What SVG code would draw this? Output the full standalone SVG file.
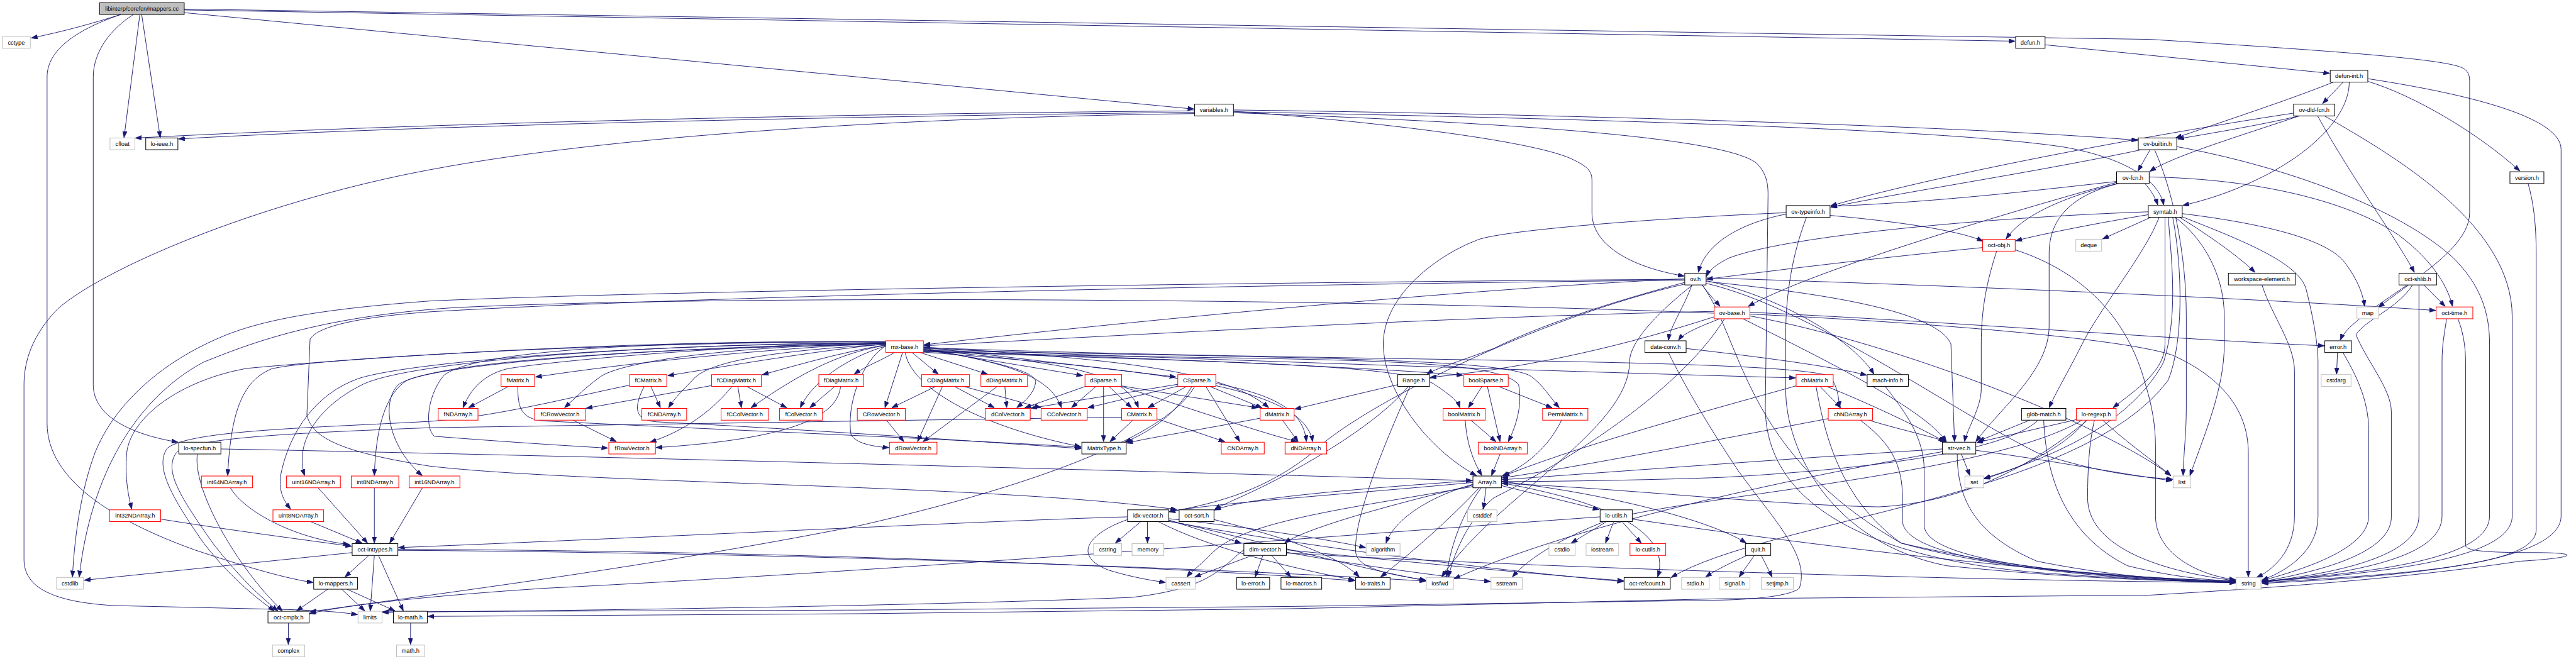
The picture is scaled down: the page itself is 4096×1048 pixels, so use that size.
<svg xmlns="http://www.w3.org/2000/svg" width="4096" height="1048" viewBox="0 0 4096 1048">
<style>
.n rect{fill:#fff;stroke:#000;stroke-width:1.4}
.n.r rect{stroke:#f00}
.n.x rect{stroke:#bfbfbf}
.n.root rect{fill:#bfbfbf}
.n text{font-family:"Liberation Sans",Arial,sans-serif;font-size:13px;text-anchor:middle;fill:#000}
#edges path{fill:none;stroke:#191970;stroke-width:1.3;marker-end:url(#a)}
</style>
<defs>
<marker id="a" markerUnits="userSpaceOnUse" markerWidth="14" markerHeight="10" refX="14" refY="5" orient="auto" viewBox="0 0 14 10"><path d="M0,0 L14,5 L0,10 z" fill="#191970" stroke="#191970" stroke-width="1"/></marker>
</defs>
<rect width="4096" height="1048" fill="#fff"/>
<g transform="scale(0.71974)">
<g id="edges">
<path d="M267,32 C210,50 140,70 69,84"/>
<path d="M309,32 L274,304"/>
<path d="M313,32 L354,304"/>
<path d="M295,32 C250,60 206,110 206,170 L206,850 C206,920 290,960 393,977"/>
<path d="M267,32 C170,65 104,110 104,170 L104,935 C104,1060 250,1150 430,1215 C550,1255 640,1280 692,1287"/>
<path d="M407,22 L4452,91"/>
<path d="M407,20 L4750,87 C5150,112 5400,130 5440,150 C5452,156 5456,165 5456,180 L5456,470 C5456,580 5200,680 5170,752"/>
<path d="M407,28 L2638,241"/>
<path d="M4518,99 L5147,162"/>
<path d="M5156,181 C5060,220 4900,272 4806,305"/>
<path d="M5177,181 L5131,229"/>
<path d="M5190,181 C5190,260 5100,340 5000,390 C4920,430 4860,445 4822,454"/>
<path d="M5232,180 C5330,210 5470,290 5567,378"/>
<path d="M5232,174 C5400,200 5658,250 5658,330 L5658,1140 C5658,1230 5400,1270 4997,1289"/>
<path d="M5585,405 C5598,450 5603,500 5603,560 L5603,1170 C5603,1240 5400,1265 4997,1287"/>
<path d="M5080,256 C5000,275 4900,292 4811,307"/>
<path d="M5067,250 C4800,290 4300,380 4044,455"/>
<path d="M5080,256 C4950,300 4800,345 4749,379"/>
<path d="M5120,256 C5200,400 5290,520 5334,602"/>
<path d="M5135,256 C5300,350 5550,500 5550,700 L5550,1140 C5550,1220 5350,1262 4997,1285"/>
<path d="M4750,331 L4723,378"/>
<path d="M4730,331 C4500,380 4200,425 4044,458"/>
<path d="M4809,324 C5050,368 5300,460 5420,570 C5480,630 5500,690 5500,760 L5500,1140 C5500,1225 5300,1262 4997,1284"/>
<path d="M4760,331 C4800,420 4830,560 4830,700 L4830,900 C4830,960 4824,1000 4823,1051"/>
<path d="M4676,401 C4500,420 4300,445 4045,456"/>
<path d="M4680,405 C4580,430 4470,470 4432,528"/>
<path d="M4676,403 C4400,480 4000,600 3862,677"/>
<path d="M4682,405 C4580,430 4527,480 4527,560 L4527,720 C4527,820 4420,900 4365,976"/>
<path d="M4738,405 C4752,420 4762,438 4767,453"/>
<path d="M4748,391 C5000,395 5200,450 5300,520 C5380,580 5410,640 5418,677"/>
<path d="M3946,473 C3860,490 3770,530 3752,602"/>
<path d="M3946,470 C3700,480 3350,505 3270,528 C3180,560 3056,650 3056,760 C3056,860 3150,990 3262,1051"/>
<path d="M3991,480 C3960,560 3945,650 3945,740 L3945,860 C3945,1000 4050,1200 4300,1250 C4600,1280 4800,1284 4939,1286"/>
<path d="M4043,476 C4200,490 4330,510 4381,533"/>
<path d="M4752,480 L4645,528"/>
<path d="M4748,474 C4650,490 4520,515 4453,532"/>
<path d="M4746,468 C4400,480 3950,520 3820,570 C3790,585 3775,598 3770,611"/>
<path d="M4815,480 C4880,520 4950,570 4982,602"/>
<path d="M4821,472 C5050,500 5150,540 5180,580 C5210,620 5220,650 5224,677"/>
<path d="M4821,479 C4950,530 5080,580 5095,640 C5110,700 5121,760 5121,800 L5121,1140 C5121,1220 5050,1262 4997,1282"/>
<path d="M4805,480 C4860,520 4914,600 4914,700 L4914,760 C4914,860 4870,960 4838,1051"/>
<path d="M4770,480 C4740,560 4640,680 4600,760 C4570,820 4540,870 4527,901"/>
<path d="M4783,480 L4783,760 C4783,820 4720,860 4668,901"/>
<path d="M4790,480 C4800,600 4810,700 4780,800 C4700,950 4500,1020 4383,1057"/>
<path d="M4800,480 C4823,600 4823,760 4790,840 C4600,1100 3900,1150 3692,1276"/>
<path d="M2639,245 C2000,250 1000,268 299,305"/>
<path d="M2639,248 C2000,256 1000,273 394,307"/>
<path d="M2639,251 C2100,258 1400,290 950,375 C600,440 250,580 130,680 C70,740 53,800 53,850 L53,1236 C53,1300 120,1330 250,1338 L600,1346 C700,1348 750,1352 790,1358"/>
<path d="M2725,246 C3000,265 3400,310 3480,355 C3510,370 3517,380 3517,400 L3517,470 C3517,540 3600,590 3721,610"/>
<path d="M2725,243 C3300,250 4300,275 4723,310"/>
<path d="M2725,247 C3500,262 4300,285 4560,325 C4700,350 4770,400 4780,453"/>
<path d="M2725,249 C3300,270 3800,300 3880,360 C3900,380 3906,400 3906,430 L3900,900 C3900,1100 4100,1230 4500,1265 C4700,1280 4850,1285 4939,1287"/>
<path d="M4997,629 C5020,700 5069,760 5069,820 L5069,1140 C5069,1220 5020,1260 4985,1276"/>
<path d="M5322,629 L5254,679"/>
<path d="M5354,629 L5402,677"/>
<path d="M5330,629 C5300,680 5220,710 5205,740 C5230,800 5283,860 5283,910 L5283,1142 C5283,1200 5200,1250 4997,1285"/>
<path d="M5344,629 L5344,1140 C5344,1220 5200,1262 4997,1286"/>
<path d="M5405,704 C5400,740 5395,760 5395,800 L5395,1140 C5395,1220 5250,1262 4997,1286"/>
<path d="M5430,704 C5440,730 5447,760 5447,800 L5447,1205 C5447,1218 5500,1221 5600,1221 C5700,1221 5700,1232 5568,1240 C5300,1280 5000,1300 4750,1315 L3800,1323 L2850,1345 L1900,1356 L945,1362"/>
<path d="M5164,779 L5162,827"/>
<path d="M5176,779 C5200,820 5233,880 5233,950 L5233,1140 C5233,1210 5100,1255 4997,1283"/>
<path d="M4380,547 C4100,575 3900,600 3770,617"/>
<path d="M4411,555 C4390,620 4377,680 4377,760 L4377,860 C4377,900 4345,950 4340,976"/>
<path d="M4452,552 C4600,600 4700,700 4740,850 C4755,900 4762,940 4762,990 L4762,1140 C4762,1220 4850,1270 4939,1281"/>
<path d="M3769,614 C4300,630 5000,660 5381,686"/>
<path d="M3760,629 C3775,650 3790,665 3800,677"/>
<path d="M3722,617 C3000,622 1500,640 950,665 C750,680 600,700 500,740 C350,800 250,900 210,1000 C180,1080 165,1180 160,1275"/>
<path d="M3722,619 C3000,626 1600,650 950,689 C800,700 700,720 685,750 L678,917 C690,970 760,1000 950,1030 C1300,1070 2200,1070 2600,1126"/>
<path d="M3722,616 C3200,640 2400,720 2041,762"/>
<path d="M3722,624 C3550,670 3400,720 3300,770 C3220,800 3170,815 3152,827"/>
<path d="M3738,629 C3720,680 3690,720 3686,752"/>
<path d="M3740,629 C3650,700 3600,760 3600,800 C3600,950 3300,1100 3185,1275"/>
<path d="M3725,627 C3400,700 3000,900 2900,1000 C2800,1080 2700,1110 2583,1131"/>
<path d="M3769,620 C3950,660 4100,760 4140,827"/>
<path d="M3769,622 C4050,650 4280,690 4310,760 L4318,976"/>
<path d="M3769,626 C4000,680 4300,900 4500,1000 C4650,1050 4750,1055 4800,1059"/>
<path d="M3760,629 C3850,750 3850,1000 4200,1200 C4500,1270 4800,1283 4939,1288"/>
<path d="M3866,690 C4300,710 4800,750 5135,764"/>
<path d="M3850,704 C4000,780 4250,900 4300,976"/>
<path d="M3866,698 C4200,760 4650,940 4796,1051"/>
<path d="M3866,694 C4300,715 4700,750 4800,785 C4900,830 4967,900 4967,1000 L4967,1275"/>
<path d="M3787,692 C3000,660 1600,650 1000,680 C700,700 550,760 450,800 C300,880 200,1050 175,1275"/>
<path d="M3810,704 C3720,850 3500,1000 3300,1100 C3240,1150 3210,1230 3200,1275"/>
<path d="M3787,700 C3600,760 3400,810 3159,834"/>
<path d="M3800,704 C3760,720 3720,735 3708,752"/>
<path d="M3787,688 C3200,700 2500,740 2041,764"/>
<path d="M3686,779 C3720,850 3780,950 3840,1040 C3920,1150 4000,1230 3975,1300 C3950,1320 3850,1325 3800,1326 L2850,1340 L1900,1348 C1300,1350 1000,1351 845,1352"/>
<path d="M3725,770 C3900,790 4050,810 4124,829"/>
<path d="M4165,854 C4200,900 4251,960 4251,1040 L4251,1160 C4251,1230 4500,1270 4939,1284"/>
<path d="M3088,850 C3000,870 2920,890 2860,904"/>
<path d="M3111,854 C3050,930 2900,1020 2800,1070 C2740,1100 2700,1115 2683,1126"/>
<path d="M3115,854 C3050,1000 2990,1150 2995,1220 C3000,1260 3080,1270 3150,1282"/>
<path d="M3274,854 L3244,901"/>
<path d="M3286,854 L3314,976"/>
<path d="M3311,854 L3429,901"/>
<path d="M3237,928 C3240,980 3255,1020 3274,1051"/>
<path d="M3249,928 L3305,976"/>
<path d="M3314,1003 L3295,1051"/>
<path d="M3450,928 C3420,990 3370,1030 3318,1052"/>
<path d="M3283,1078 L3277,1125"/>
<path d="M3254,1070 C3150,1100 3080,1150 3062,1200"/>
<path d="M3317,1073 L3533,1126"/>
<path d="M3268,1078 C3200,1150 3120,1220 3050,1275"/>
<path d="M3272,1078 C3220,1150 3200,1230 3196,1275"/>
<path d="M3317,1067 C3500,1100 3700,1160 3662,1275"/>
<path d="M3317,1064 C3550,1090 3780,1150 3858,1200"/>
<path d="M3254,1066 C3000,1090 2700,1110 2583,1130"/>
<path d="M3254,1062 C3000,1080 2750,1100 2683,1127"/>
<path d="M3254,1072 C3050,1120 2880,1170 2838,1200"/>
<path d="M3254,1075 C3000,1120 2750,1150 2680,1220 C2650,1250 2630,1265 2622,1275"/>
<path d="M2521,1152 L2464,1200"/>
<path d="M2535,1152 L2535,1200"/>
<path d="M2491,1148 C2400,1180 2370,1230 2450,1260 C2500,1275 2540,1282 2575,1287"/>
<path d="M2582,1149 L2742,1200"/>
<path d="M2491,1142 C2200,1150 1500,1185 880,1210"/>
<path d="M2558,1152 C2650,1200 2800,1245 2993,1282"/>
<path d="M2582,1152 C2900,1210 3300,1260 3587,1285"/>
<path d="M2582,1146 C2800,1170 2950,1195 3017,1210"/>
<path d="M2582,1150 C2800,1200 3000,1255 3150,1283"/>
<path d="M2682,1148 C2850,1190 2960,1230 3003,1275"/>
<path d="M2767,1227 L2639,1275"/>
<path d="M2790,1227 L2773,1275"/>
<path d="M2809,1227 L2852,1275"/>
<path d="M2748,1215 C2700,1250 2680,1300 2500,1320 C2000,1340 1200,1350 845,1353"/>
<path d="M2842,1215 C3100,1240 3400,1270 3587,1283"/>
<path d="M2842,1220 C3000,1250 3200,1275 3293,1285"/>
<path d="M2842,1222 C3500,1260 4500,1285 4939,1287"/>
<path d="M3550,1152 L3471,1200"/>
<path d="M3565,1152 L3547,1200"/>
<path d="M3583,1152 L3626,1200"/>
<path d="M3535,1142 C3000,1180 2000,1260 1200,1300 C900,1320 750,1340 684,1356"/>
<path d="M3606,1147 C3900,1190 4500,1270 4939,1285"/>
<path d="M3876,1227 L3842,1275"/>
<path d="M3891,1227 L3915,1275"/>
<path d="M3860,1227 C3820,1245 3790,1260 3768,1275"/>
<path d="M778,1221 L186,1282"/>
<path d="M815,1227 L762,1275"/>
<path d="M827,1227 L818,1350"/>
<path d="M836,1227 L891,1350"/>
<path d="M879,1214 C1500,1215 2400,1240 2993,1283"/>
<path d="M879,1216 C1600,1220 2600,1250 3150,1284"/>
<path d="M724,1302 L655,1350"/>
<path d="M755,1302 L806,1350"/>
<path d="M767,1302 L873,1350"/>
<path d="M637,1377 L637,1424"/>
<path d="M907,1377 L907,1424"/>
<path d="M436,1003 C425,1080 520,1250 624,1350"/>
<path d="M488,992 C1200,1005 2500,1040 3253,1062"/>
<path d="M355,1147 C500,1170 650,1190 777,1207"/>
<path d="M509,1078 C540,1130 650,1190 772,1203"/>
<path d="M685,1152 L800,1200"/>
<path d="M703,1078 L812,1200"/>
<path d="M827,1078 L827,1200"/>
<path d="M933,1078 L861,1200"/>
<path d="M4333,1003 L4352,1051"/>
<path d="M4291,992 C4000,1010 3600,1040 3318,1060"/>
<path d="M4365,995 C4550,1020 4700,1050 4799,1062"/>
<path d="M4324,1003 C4324,1100 4360,1180 4500,1240 C4700,1280 4850,1284 4939,1286"/>
<path d="M4291,998 C4000,1050 3500,1150 3212,1279"/>
<path d="M4485,928 L4370,975"/>
<path d="M4503,928 C4450,980 4250,1030 3800,1055 C3600,1062 3400,1064 3318,1064"/>
<path d="M4515,928 C4520,1050 4560,1180 4700,1250 C4800,1275 4880,1282 4939,1284"/>
<path d="M4588,927 L4367,978"/>
<path d="M4609,928 C4570,980 4480,1030 4383,1058"/>
<path d="M4612,928 C4500,1020 4350,1110 4150,1120 C3900,1115 3600,1080 3318,1068"/>
<path d="M4627,928 C4615,980 4612,1040 4612,1100 C4612,1200 4750,1260 4939,1283"/>
<path d="M4645,928 C4700,980 4760,1020 4796,1051"/>
<path d="M4600,928 C4400,1050 3700,1100 3550,1150 C3450,1190 3380,1230 3341,1275"/>
<path d="M4021,854 L4067,901"/>
<path d="M4036,854 C4150,900 4250,950 4297,976"/>
<path d="M3970,852 C3800,900 3500,980 3321,1052"/>
<path d="M4012,854 C4030,950 4060,1100 4200,1200 C4450,1270 4800,1285 4939,1287"/>
<path d="M4039,925 C3800,970 3500,1030 3318,1056"/>
<path d="M4109,928 C4180,980 4203,1030 4203,1100 L4203,1150 C4203,1230 4500,1270 4939,1286"/>
<path d="M4127,928 C4200,950 4270,965 4300,976"/>
<path d="M1123,854 L1035,901"/>
<path d="M1144,854 C1144,900 1150,925 1200,930 C1600,950 2100,970 2389,988"/>
<path d="M1438,854 L1459,901"/>
<path d="M1423,854 C1400,900 1400,928 1450,932 C1800,950 2150,975 2389,991"/>
<path d="M1391,851 C1250,880 1100,920 950,931 C700,945 420,950 370,990 C340,1030 380,1100 450,1200 C520,1290 580,1330 606,1350"/>
<path d="M1572,852 L1295,902"/>
<path d="M1617,854 C1580,900 1520,950 1436,977"/>
<path d="M1630,854 L1638,901"/>
<path d="M1650,854 L1738,901"/>
<path d="M1844,854 L1789,901"/>
<path d="M1857,854 C1850,920 1750,970 1449,989"/>
<path d="M1265,928 L1362,976"/>
<path d="M2067,854 L1970,901"/>
<path d="M2082,854 L2027,976"/>
<path d="M2109,854 L2197,901"/>
<path d="M2130,854 L2300,901"/>
<path d="M2220,854 L2224,901"/>
<path d="M2203,854 L2039,976"/>
<path d="M2403,852 L2264,901"/>
<path d="M2421,854 L2367,901"/>
<path d="M2438,854 L2438,976"/>
<path d="M2450,854 L2500,901"/>
<path d="M2473,852 L2779,901"/>
<path d="M2479,854 C2650,910 2800,960 2866,976"/>
<path d="M2603,849 L2277,902"/>
<path d="M2603,853 L2403,901"/>
<path d="M2621,854 L2536,901"/>
<path d="M2633,854 C2600,910 2550,950 2485,977"/>
<path d="M2639,854 C2580,960 2300,1070 1900,1161 C1400,1260 900,1320 685,1352"/>
<path d="M2664,854 L2739,976"/>
<path d="M2673,854 L2788,901"/>
<path d="M2686,847 C2800,870 2880,900 2886,976"/>
<path d="M2503,928 L2452,976"/>
<path d="M2555,925 L2706,976"/>
<path d="M2478,922 C2000,928 1300,940 950,945 C700,955 420,965 390,1000 C360,1040 400,1100 470,1200 C540,1290 590,1330 614,1350"/>
<path d="M2784,924 C2650,950 2550,965 2489,979"/>
<path d="M2833,928 L2868,976"/>
<path d="M1958,928 L1997,976"/>
<path d="M1994,779 L1955,901"/>
<path d="M2000,779 C2010,850 2150,940 2388,987"/>
<path d="M2015,779 L2073,827"/>
<path d="M2033,779 L2182,827"/>
<path d="M2040,772 L2392,830"/>
<path d="M2040,767 L2598,833"/>
<path d="M2040,769 C2200,800 2290,820 2288,845 C2285,870 2260,890 2246,901"/>
<path d="M2040,771 C2220,800 2320,830 2345,901"/>
<path d="M2040,772 C2300,800 2480,810 2515,901"/>
<path d="M2040,767 C2400,790 2700,810 2803,901"/>
<path d="M1976,779 C1950,795 1910,810 1887,827"/>
<path d="M1957,762 C1850,780 1750,810 1684,828"/>
<path d="M1957,760 C1800,775 1600,810 1475,830"/>
<path d="M1957,758 C1700,770 1400,800 1183,833"/>
<path d="M1957,757 C1600,762 1200,800 1120,815 C1060,830 1035,870 1023,901"/>
<path d="M1957,759 C1600,765 1380,800 1330,830 C1300,850 1270,880 1247,901"/>
<path d="M1957,761 C1700,775 1560,800 1530,840 C1510,860 1490,880 1477,901"/>
<path d="M1957,763 C1850,780 1760,830 1659,901"/>
<path d="M1957,765 C1900,780 1800,830 1768,901"/>
<path d="M1957,756 C1500,752 1050,770 980,830 C940,880 940,950 960,964 C1100,975 1250,985 1343,990"/>
<path d="M1957,755 C1400,755 700,790 600,815 C540,840 510,900 503,1051"/>
<path d="M1957,757 C1400,760 900,800 800,850 C700,900 650,980 673,1051"/>
<path d="M1957,759 C1500,765 1000,800 900,840 C850,870 830,950 827,1051"/>
<path d="M1957,761 C1400,770 950,800 880,850 C840,890 860,990 933,1051"/>
<path d="M1957,755 C1400,750 800,790 545,814 C400,840 290,920 280,1000 C275,1060 285,1100 291,1125"/>
<path d="M1957,758 C1400,760 900,800 790,837 C700,870 640,950 620,1050 C615,1090 630,1110 642,1125"/>
<path d="M2040,775 C2500,790 3000,810 3232,829"/>
<path d="M2040,776 C2600,800 3100,800 3170,850 C3200,870 3220,885 3225,901"/>
<path d="M2040,777 C2800,800 3300,780 3355,850 C3365,900 3345,950 3332,976"/>
<path d="M2040,774 C2800,790 3300,790 3380,830 C3410,850 3425,880 3445,901"/>
<path d="M2040,770 C2800,800 3600,825 3967,835"/>
<path d="M2040,768 C2900,800 3900,790 4040,830 C4060,850 4062,880 4064,901"/>
<path d="M2040,778 C2600,820 2880,860 2900,976"/>
<path d="M1957,764 C1900,800 1870,900 1880,960 C1890,980 1930,987 1964,989"/>
</g>
<g id="nodes">
<g id="n-mappers-cc" class="n root"><rect x="220" y="6" width="187" height="26"/><text x="313.5" y="23.5">libinterp/corefcn/mappers.cc</text></g>
<g id="n-cctype" class="n x"><rect x="5" y="80.7" width="62" height="26"/><text x="36" y="98.2">cctype</text></g>
<g id="n-defun-h" class="n"><rect x="4453" y="80.7" width="65" height="26"/><text x="4485.5" y="98.2">defun.h</text></g>
<g id="n-defun-int-h" class="n"><rect x="5148" y="155.4" width="83" height="26"/><text x="5189.5" y="172.9">defun-int.h</text></g>
<g id="n-variables-h" class="n"><rect x="2639" y="230.1" width="86" height="26"/><text x="2682" y="247.6">variables.h</text></g>
<g id="n-ov-dld-fcn-h" class="n"><rect x="5067" y="230.1" width="91" height="26"/><text x="5112.5" y="247.6">ov-dld-fcn.h</text></g>
<g id="n-cfloat" class="n x"><rect x="243" y="304.8" width="55" height="26"/><text x="270.5" y="322.3">cfloat</text></g>
<g id="n-lo-ieee-h" class="n"><rect x="322" y="304.8" width="71" height="26"/><text x="357.5" y="322.3">lo-ieee.h</text></g>
<g id="n-ov-builtin-h" class="n"><rect x="4724" y="304.8" width="85" height="26"/><text x="4766.5" y="322.3">ov-builtin.h</text></g>
<g id="n-ov-fcn-h" class="n"><rect x="4676" y="379.5" width="72" height="26"/><text x="4712" y="397">ov-fcn.h</text></g>
<g id="n-version-h" class="n"><rect x="5545" y="379.5" width="75" height="26"/><text x="5582.5" y="397">version.h</text></g>
<g id="n-ov-typeinfo-h" class="n"><rect x="3946" y="454.2" width="97" height="26"/><text x="3994.5" y="471.7">ov-typeinfo.h</text></g>
<g id="n-symtab-h" class="n"><rect x="4746" y="454.2" width="75" height="26"/><text x="4783.5" y="471.7">symtab.h</text></g>
<g id="n-oct-obj-h" class="n r"><rect x="4380" y="528.9" width="72" height="26"/><text x="4416" y="546.4">oct-obj.h</text></g>
<g id="n-deque" class="n x"><rect x="4586" y="528.9" width="57" height="26"/><text x="4614.5" y="546.4">deque</text></g>
<g id="n-ov-h" class="n"><rect x="3722" y="603.6" width="47" height="26"/><text x="3745.5" y="621.1">ov.h</text></g>
<g id="n-workspace-element-h" class="n"><rect x="4923" y="603.6" width="148" height="26"/><text x="4997" y="621.1">workspace-element.h</text></g>
<g id="n-oct-shlib-h" class="n"><rect x="5300" y="603.6" width="83" height="26"/><text x="5341.5" y="621.1">oct-shlib.h</text></g>
<g id="n-ov-base-h" class="n r"><rect x="3787" y="678.3" width="79" height="26"/><text x="3826.5" y="695.8">ov-base.h</text></g>
<g id="n-map" class="n x"><rect x="5207" y="678.3" width="48" height="26"/><text x="5231" y="695.8">map</text></g>
<g id="n-oct-time-h" class="n r"><rect x="5382" y="678.3" width="81" height="26"/><text x="5422.5" y="695.8">oct-time.h</text></g>
<g id="n-mx-base-h" class="n r"><rect x="1957" y="753" width="83" height="26"/><text x="1998.5" y="770.5">mx-base.h</text></g>
<g id="n-data-conv-h" class="n"><rect x="3634" y="753" width="91" height="26"/><text x="3679.5" y="770.5">data-conv.h</text></g>
<g id="n-error-h" class="n"><rect x="5136" y="753" width="59" height="26"/><text x="5165.5" y="770.5">error.h</text></g>
<g id="n-fMatrix-h" class="n r"><rect x="1107" y="827.7" width="74" height="26"/><text x="1144" y="845.2">fMatrix.h</text></g>
<g id="n-fCMatrix-h" class="n r"><rect x="1391" y="827.7" width="82" height="26"/><text x="1432" y="845.2">fCMatrix.h</text></g>
<g id="n-fCDiagMatrix-h" class="n r"><rect x="1572" y="827.7" width="110" height="26"/><text x="1627" y="845.2">fCDiagMatrix.h</text></g>
<g id="n-fDiagMatrix-h" class="n r"><rect x="1809" y="827.7" width="99" height="26"/><text x="1858.5" y="845.2">fDiagMatrix.h</text></g>
<g id="n-CDiagMatrix-h" class="n r"><rect x="2036" y="827.7" width="106" height="26"/><text x="2089" y="845.2">CDiagMatrix.h</text></g>
<g id="n-dDiagMatrix-h" class="n r"><rect x="2167" y="827.7" width="103" height="26"/><text x="2218.5" y="845.2">dDiagMatrix.h</text></g>
<g id="n-dSparse-h" class="n r"><rect x="2397" y="827.7" width="81" height="26"/><text x="2437.5" y="845.2">dSparse.h</text></g>
<g id="n-CSparse-h" class="n r"><rect x="2602" y="827.7" width="84" height="26"/><text x="2644" y="845.2">CSparse.h</text></g>
<g id="n-Range-h" class="n"><rect x="3088" y="827.7" width="70" height="26"/><text x="3123" y="845.2">Range.h</text></g>
<g id="n-boolSparse-h" class="n r"><rect x="3234" y="827.7" width="98" height="26"/><text x="3283" y="845.2">boolSparse.h</text></g>
<g id="n-chMatrix-h" class="n r"><rect x="3968" y="827.7" width="82" height="26"/><text x="4009" y="845.2">chMatrix.h</text></g>
<g id="n-mach-info-h" class="n"><rect x="4125" y="827.7" width="91" height="26"/><text x="4170.5" y="845.2">mach-info.h</text></g>
<g id="n-cstdarg" class="n x"><rect x="5128" y="827.7" width="66" height="26"/><text x="5161" y="845.2">cstdarg</text></g>
<g id="n-fNDArray-h" class="n r"><rect x="968" y="902.4" width="88" height="26"/><text x="1012" y="919.9">fNDArray.h</text></g>
<g id="n-fCRowVector-h" class="n r"><rect x="1181" y="902.4" width="113" height="26"/><text x="1237.5" y="919.9">fCRowVector.h</text></g>
<g id="n-fCNDArray-h" class="n r"><rect x="1418" y="902.4" width="99" height="26"/><text x="1467.5" y="919.9">fCNDArray.h</text></g>
<g id="n-fCColVector-h" class="n r"><rect x="1593" y="902.4" width="105" height="26"/><text x="1645.5" y="919.9">fCColVector.h</text></g>
<g id="n-fColVector-h" class="n r"><rect x="1722" y="902.4" width="95" height="26"/><text x="1769.5" y="919.9">fColVector.h</text></g>
<g id="n-CRowVector-h" class="n r"><rect x="1894" y="902.4" width="106" height="26"/><text x="1947" y="919.9">CRowVector.h</text></g>
<g id="n-dColVector-h" class="n r"><rect x="2177" y="902.4" width="99" height="26"/><text x="2226.5" y="919.9">dColVector.h</text></g>
<g id="n-CColVector-h" class="n r"><rect x="2300" y="902.4" width="102" height="26"/><text x="2351" y="919.9">CColVector.h</text></g>
<g id="n-CMatrix-h" class="n r"><rect x="2478" y="902.4" width="78" height="26"/><text x="2517" y="919.9">CMatrix.h</text></g>
<g id="n-dMatrix-h" class="n r"><rect x="2784" y="902.4" width="75" height="26"/><text x="2821.5" y="919.9">dMatrix.h</text></g>
<g id="n-boolMatrix-h" class="n r"><rect x="3188" y="902.4" width="93" height="26"/><text x="3234.5" y="919.9">boolMatrix.h</text></g>
<g id="n-PermMatrix-h" class="n r"><rect x="3408" y="902.4" width="100" height="26"/><text x="3458" y="919.9">PermMatrix.h</text></g>
<g id="n-chNDArray-h" class="n r"><rect x="4039" y="902.4" width="98" height="26"/><text x="4088" y="919.9">chNDArray.h</text></g>
<g id="n-glob-match-h" class="n"><rect x="4466" y="902.4" width="98" height="26"/><text x="4515" y="919.9">glob-match.h</text></g>
<g id="n-lo-regexp-h" class="n r"><rect x="4587" y="902.4" width="88" height="26"/><text x="4631" y="919.9">lo-regexp.h</text></g>
<g id="n-lo-specfun-h" class="n"><rect x="395" y="977.1" width="93" height="26"/><text x="441.5" y="994.6">lo-specfun.h</text></g>
<g id="n-fRowVector-h" class="n r"><rect x="1345" y="977.1" width="103" height="26"/><text x="1396.5" y="994.6">fRowVector.h</text></g>
<g id="n-dRowVector-h" class="n r"><rect x="1965" y="977.1" width="105" height="26"/><text x="2017.5" y="994.6">dRowVector.h</text></g>
<g id="n-MatrixType-h" class="n"><rect x="2390" y="977.1" width="98" height="26"/><text x="2439" y="994.6">MatrixType.h</text></g>
<g id="n-CNDArray-h" class="n r"><rect x="2698" y="977.1" width="95" height="26"/><text x="2745.5" y="994.6">CNDArray.h</text></g>
<g id="n-dNDArray-h" class="n r"><rect x="2839" y="977.1" width="92" height="26"/><text x="2885" y="994.6">dNDArray.h</text></g>
<g id="n-boolNDArray-h" class="n r"><rect x="3266" y="977.1" width="108" height="26"/><text x="3320" y="994.6">boolNDArray.h</text></g>
<g id="n-str-vec-h" class="n"><rect x="4291" y="977.1" width="74" height="26"/><text x="4328" y="994.6">str-vec.h</text></g>
<g id="n-int64NDArray-h" class="n r"><rect x="445" y="1051.8" width="113" height="26"/><text x="501.5" y="1069.3">int64NDArray.h</text></g>
<g id="n-uint16NDArray-h" class="n r"><rect x="633" y="1051.8" width="119" height="26"/><text x="692.5" y="1069.3">uint16NDArray.h</text></g>
<g id="n-int8NDArray-h" class="n r"><rect x="776" y="1051.8" width="105" height="26"/><text x="828.5" y="1069.3">int8NDArray.h</text></g>
<g id="n-int16NDArray-h" class="n r"><rect x="904" y="1051.8" width="112" height="26"/><text x="960" y="1069.3">int16NDArray.h</text></g>
<g id="n-Array-h" class="n"><rect x="3254" y="1051.8" width="63" height="26"/><text x="3285.5" y="1069.3">Array.h</text></g>
<g id="n-set" class="n x"><rect x="4341" y="1051.8" width="41" height="26"/><text x="4361.5" y="1069.3">set</text></g>
<g id="n-list" class="n x"><rect x="4801" y="1051.8" width="39" height="26"/><text x="4820.5" y="1069.3">list</text></g>
<g id="n-int32NDArray-h" class="n r"><rect x="242" y="1126.5" width="113" height="26"/><text x="298.5" y="1144">int32NDArray.h</text></g>
<g id="n-uint8NDArray-h" class="n r"><rect x="603" y="1126.5" width="112" height="26"/><text x="659" y="1144">uint8NDArray.h</text></g>
<g id="n-idx-vector-h" class="n"><rect x="2491" y="1126.5" width="91" height="26"/><text x="2536.5" y="1144">idx-vector.h</text></g>
<g id="n-oct-sort-h" class="n"><rect x="2605" y="1126.5" width="77" height="26"/><text x="2643.5" y="1144">oct-sort.h</text></g>
<g id="n-cstddef" class="n x"><rect x="3242" y="1126.5" width="65" height="26"/><text x="3274.5" y="1144">cstddef</text></g>
<g id="n-lo-utils-h" class="n"><rect x="3535" y="1126.5" width="71" height="26"/><text x="3570.5" y="1144">lo-utils.h</text></g>
<g id="n-oct-inttypes-h" class="n"><rect x="778" y="1201.2" width="101" height="26"/><text x="828.5" y="1218.7">oct-inttypes.h</text></g>
<g id="n-cstring" class="n x"><rect x="2416" y="1201.2" width="62" height="26"/><text x="2447" y="1218.7">cstring</text></g>
<g id="n-memory" class="n x"><rect x="2501" y="1201.2" width="70" height="26"/><text x="2536" y="1218.7">memory</text></g>
<g id="n-dim-vector-h" class="n"><rect x="2748" y="1201.2" width="94" height="26"/><text x="2795" y="1218.7">dim-vector.h</text></g>
<g id="n-algorithm" class="n x"><rect x="3018" y="1201.2" width="75" height="26"/><text x="3055.5" y="1218.7">algorithm</text></g>
<g id="n-cstdio" class="n x"><rect x="3422" y="1201.2" width="58" height="26"/><text x="3451" y="1218.7">cstdio</text></g>
<g id="n-iostream" class="n x"><rect x="3504" y="1201.2" width="72" height="26"/><text x="3540" y="1218.7">iostream</text></g>
<g id="n-lo-cutils-h" class="n r"><rect x="3601" y="1201.2" width="79" height="26"/><text x="3640.5" y="1218.7">lo-cutils.h</text></g>
<g id="n-quit-h" class="n"><rect x="3856" y="1201.2" width="56" height="26"/><text x="3884" y="1218.7">quit.h</text></g>
<g id="n-cstdlib" class="n x"><rect x="125" y="1275.9" width="59" height="26"/><text x="154.5" y="1293.4">cstdlib</text></g>
<g id="n-lo-mappers-h" class="n"><rect x="693" y="1275.9" width="97" height="26"/><text x="741.5" y="1293.4">lo-mappers.h</text></g>
<g id="n-cassert" class="n x"><rect x="2576" y="1275.9" width="65" height="26"/><text x="2608.5" y="1293.4">cassert</text></g>
<g id="n-lo-error-h" class="n"><rect x="2732" y="1275.9" width="73" height="26"/><text x="2768.5" y="1293.4">lo-error.h</text></g>
<g id="n-lo-macros-h" class="n"><rect x="2830" y="1275.9" width="90" height="26"/><text x="2875" y="1293.4">lo-macros.h</text></g>
<g id="n-lo-traits-h" class="n"><rect x="2995" y="1275.9" width="76" height="26"/><text x="3033" y="1293.4">lo-traits.h</text></g>
<g id="n-iosfwd" class="n x"><rect x="3151" y="1275.9" width="60" height="26"/><text x="3181" y="1293.4">iosfwd</text></g>
<g id="n-sstream" class="n x"><rect x="3294" y="1275.9" width="69" height="26"/><text x="3328.5" y="1293.4">sstream</text></g>
<g id="n-oct-refcount-h" class="n"><rect x="3588" y="1275.9" width="102" height="26"/><text x="3639" y="1293.4">oct-refcount.h</text></g>
<g id="n-stdio-h" class="n x"><rect x="3715" y="1275.9" width="61" height="26"/><text x="3745.5" y="1293.4">stdio.h</text></g>
<g id="n-signal-h" class="n x"><rect x="3798" y="1275.9" width="68" height="26"/><text x="3832" y="1293.4">signal.h</text></g>
<g id="n-setjmp-h" class="n x"><rect x="3891" y="1275.9" width="71" height="26"/><text x="3926.5" y="1293.4">setjmp.h</text></g>
<g id="n-string" class="n x"><rect x="4940" y="1275.9" width="55" height="26"/><text x="4967.5" y="1293.4">string</text></g>
<g id="n-oct-cmplx-h" class="n"><rect x="592" y="1350.6" width="91" height="26"/><text x="637.5" y="1368.1">oct-cmplx.h</text></g>
<g id="n-limits" class="n x"><rect x="791" y="1350.6" width="53" height="26"/><text x="817.5" y="1368.1">limits</text></g>
<g id="n-lo-math-h" class="n"><rect x="869" y="1350.6" width="75" height="26"/><text x="906.5" y="1368.1">lo-math.h</text></g>
<g id="n-complex" class="n x"><rect x="602" y="1425.3" width="71" height="26"/><text x="637.5" y="1442.8">complex</text></g>
<g id="n-math-h" class="n x"><rect x="876" y="1425.3" width="62" height="26"/><text x="907" y="1442.8">math.h</text></g>
</g>
</g>
</svg>
